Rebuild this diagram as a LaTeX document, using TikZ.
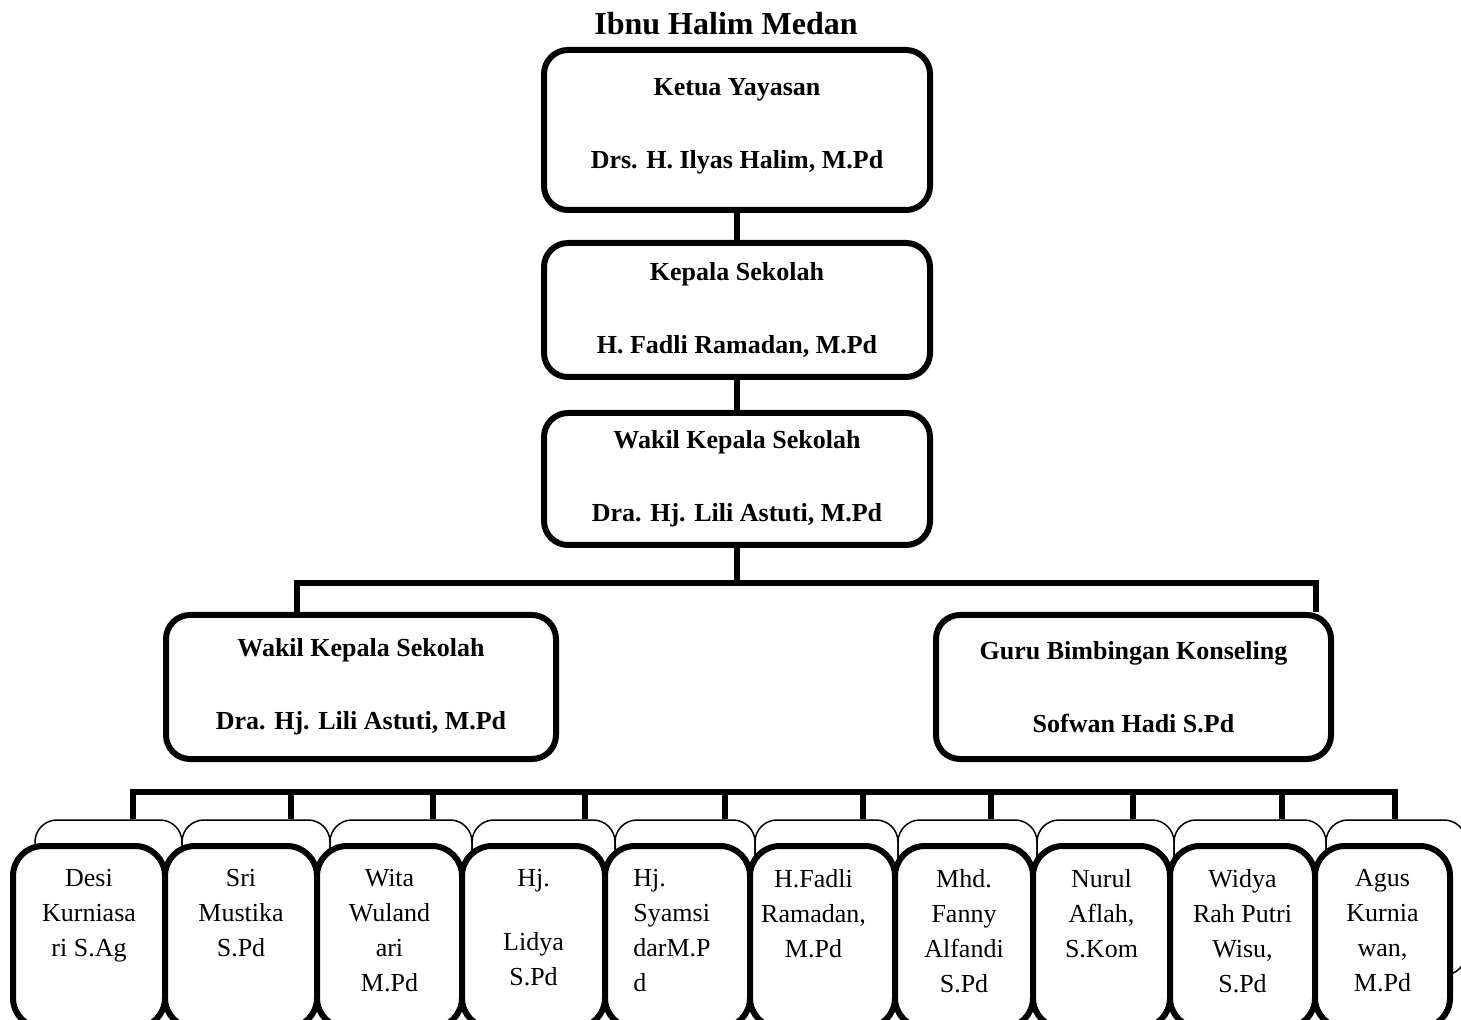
\documentclass[tikz,border=0pt]{standalone}
\usepackage{fontspec}
\setmainfont{Liberation Serif}
\tikzset{
  wire/.style={line width=3pt},
  bigbox/.style={draw, line width=3pt, rounded corners=12pt, fill=white, align=center,
    font=\fontsize{13}{15.5}\selectfont\bfseries, minimum width=193pt},
  backbox/.style={draw, line width=0.75pt, rounded corners=11pt, fill=white,
    minimum height=77.5pt, inner sep=0pt},
  namebox/.style={draw, line width=3pt, rounded corners=15pt, fill=white,
    minimum height=91pt, inner sep=0pt},
  nametext/.style={anchor=north, align=center, inner sep=0pt,
    font=\fontsize{13}{17.5}\selectfont, yshift=-13pt}
}
\begin{document}
\begin{tikzpicture}[x=0.5pt,y=-0.5pt]
\useasboundingbox (0,0) rectangle (1461,1020);
\clip (0,0) rectangle (1461,1020);

\node[font=\fontsize{16}{19}\selectfont\bfseries] (judul) at (726,24) {Ibnu Halim Medan};
\node[bigbox, minimum height=80pt] (ketua) at (737,130) {Ketua Yayasan\\[21pt]Drs. H. Ilyas Halim, M.Pd\\[-9pt]};
\node[bigbox, minimum height=67pt] (kepsek) at (737,310) {Kepala Sekolah\\[21pt]H. Fadli Ramadan, M.Pd};
\node[bigbox, minimum height=66pt] (wakasek) at (737,479) {Wakil Kepala Sekolah\\[21pt]Dra. Hj. Lili Astuti, M.Pd};
\node[bigbox, minimum width=195pt, minimum height=72pt] (wakakiri) at (361,687) {Wakil Kepala Sekolah\\[21pt]Dra. Hj. Lili Astuti, M.Pd};
\node[bigbox, minimum width=197.5pt, minimum height=72pt] (guru) at (1133.5,687) {Guru Bimbingan Konseling\\[21pt]Sofwan Hadi S.Pd};

\draw[wire] (ketua.south) -- (kepsek.north);
\draw[wire] (kepsek.south) -- (wakasek.north);
\coordinate (jL) at (297,583);
\coordinate (jR) at (1316,583);
\draw[wire] (wakasek.south) -- (wakasek.south |- jL);
\draw[wire] (jL |- wakakiri.north) -- (jL) -- (jR) -- (jR |- guru.north);

\foreach \i/\xa/\xb in {1/35/182, 2/182/330, 3/330/472, 4/472/615, 5/615/755,
    6/755/898, 7/898/1037, 8/1037/1174, 9/1174/1326, 10/1326/1466}
  \node[backbox, minimum width={(\xb-\xa)*0.5pt}] (bk\i) at ({(\xa+\xb)/2},897.5) {};

\foreach \i/\xd in {1/133, 2/291, 3/433, 4/585, 5/725, 6/863, 7/991, 8/1133, 9/1282, 10/1395}
  \coordinate (d\i) at (\xd,792);
\foreach \i in {2,...,9}
  \draw[wire] (d\i) -- (d\i |- bk\i.north);
\draw[wire] (d1 |- bk1.north) -- (d1) -- (d10) -- (d10 |- bk10.north);

\foreach \i/\xa/\xb in {1/13/165, 2/165/317, 3/317/462, 4/462/605, 5/605/750,
    6/750/895, 7/895/1033, 8/1033/1170, 9/1170/1315, 10/1315/1450}
  \node[namebox, minimum width={(\xb-\xa)*0.5pt}] (nb\i) at ({(\xa+\xb)/2},937) {};

\node[nametext] (t1) at (nb1.north) {Desi\\Kurniasa\\ri S.Ag};
\node[nametext] (t2) at (nb2.north) {Sri\\Mustika\\S.Pd};
\node[nametext] (t3) at (nb3.north) {Wita\\Wuland\\ari\\M.Pd};
\node[nametext] (t4) at (nb4.north) {Hj.\\[14.5pt]Lidya\\S.Pd};
\node[nametext, anchor=north west, align=left, xshift=15.5pt] (t5) at (nb5.north west) {Hj.\\Syamsi\\darM.P\\d};
\node[nametext, xshift=-4.5pt] (t6) at (nb6.north) {H.Fadli\\Ramadan,\\M.Pd};
\node[nametext] (t7) at (nb7.north) {Mhd.\\Fanny\\Alfandi\\S.Pd};
\node[nametext] (t8) at (nb8.north) {Nurul\\Aflah,\\S.Kom};
\node[nametext] (t9) at (nb9.north) {Widya\\Rah Putri\\Wisu,\\S.Pd};
\node[nametext] (t10) at (nb10.north) {Agus\\Kurnia\\wan,\\M.Pd};
\end{tikzpicture}
\end{document}
